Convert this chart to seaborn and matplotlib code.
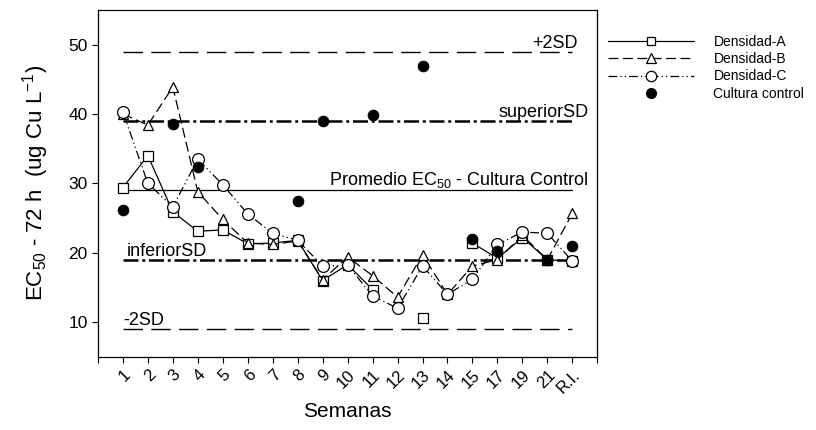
import numpy as np
import pandas as pd
import seaborn as sns
import matplotlib.pyplot as plt
from matplotlib.lines import Line2D

semanas = ['1', '2', '3', '4', '5', '6', '7', '8', '9', '10', '11', '12',
           '13', '14', '15', '17', '19', '21', 'R.I.']
dens_a = [29.4, 34.0, 25.9, 23.1, 23.3, 21.3, 21.4, 21.8, 16.0, 18.3, 14.7,
          np.nan, 10.6, np.nan, 21.4, 19.2, 22.2, 19.0, 18.8]
dens_b = [40.0, 38.4, 43.9, 28.8, 24.8, 21.4, 21.2, 21.7, 16.1, 19.4, 16.7,
          13.6, 19.7, 14.0, 18.1, 19.0, 22.5, 19.0, 25.7]
dens_c = [40.3, 30.0, 26.6, 33.5, 29.8, 25.6, 22.8, 21.8, 18.1, 18.2, 13.8,
          12.0, 18.1, 14.0, 16.2, 21.2, 23.0, 22.8, 18.8]
control = [26.1, np.nan, 38.5, 32.3, np.nan, np.nan, np.nan, 27.5, 39.0, np.nan,
           39.8, np.nan, 46.9, np.nan, 22.0, 20.3, np.nan, 19.0, 21.0]

# reference levels of the control culture
ref_names = ['+2SD', 'superiorSD', 'Promedio EC$_{50}$ - Cultura Control', 'inferiorSD', '-2SD']
ref_values = [49.0, 39.0, 29.0, 19.0, 9.0]

sns.set_style('ticks')
plt.rcParams['font.family'] = ['Liberation Sans', 'DejaVu Sans']
plt.rcParams['mathtext.fontset'] = 'custom'
plt.rcParams['mathtext.rm'] = 'Liberation Sans'
plt.rcParams['mathtext.it'] = 'Liberation Sans'
plt.rcParams['text.color'] = 'black'
plt.rcParams['axes.labelcolor'] = 'black'
plt.rcParams['xtick.color'] = 'black'
plt.rcParams['ytick.color'] = 'black'

pos = np.arange(1, len(semanas) + 1)

fig = plt.figure(figsize=(8.16, 4.30), dpi=100)
ax = fig.add_axes([0.120, 0.170, 0.612, 0.807])


def segments(values):
    # split a series at missing values so the line is not drawn across gaps
    v = pd.Series(values, dtype=float)
    seg = v.isna().cumsum()
    d = pd.DataFrame({'pos': pos, 'val': v, 'seg': seg})
    return d.dropna()


series = [
    ('Densidad-A', dens_a, 's', 7.0, '-'),
    ('Densidad-B', dens_b, '^', 7.5, (0, (8, 3.5))),
    ('Densidad-C', dens_c, 'o', 8.5, (0, (7, 2.5, 1, 2.5, 1, 2.5))),
]

# reference lines
ref_styles = [
    dict(ls=(0, (14, 6)), lw=1.0),
    dict(ls=(0, (6, 1.5, 1.2, 1.5)), lw=1.8),
    dict(ls='-', lw=0.9),
    dict(ls=(0, (6, 1.5, 1.2, 1.5)), lw=1.8),
    dict(ls=(0, (14, 6)), lw=1.0),
]
for val, st in zip(ref_values, ref_styles):
    ref = pd.DataFrame({'pos': [pos[0], pos[-1]], 'val': [val, val]})
    sns.lineplot(data=ref, x='pos', y='val', ax=ax, color='black', zorder=1, **st)

handles = []
for name, vals, mk, ms, ls in series:
    d = segments(vals)
    sns.lineplot(data=d, x='pos', y='val', units='seg', estimator=None, ax=ax,
                 color='black', lw=0.9, ls=ls, marker=mk, markersize=ms,
                 markerfacecolor='white', markeredgecolor='black',
                 markeredgewidth=0.9, zorder=3)
    handles.append(Line2D([], [], color='black', lw=0.9, ls=ls, marker=mk,
                          markersize=ms - 1, markerfacecolor='white',
                          markeredgecolor='black', markeredgewidth=0.9, label=name))

ctrl = pd.DataFrame({'pos': pos, 'val': control}).dropna()
sns.scatterplot(data=ctrl, x='pos', y='val', ax=ax, color='black', s=60,
                edgecolor='black', zorder=4)
handles.append(Line2D([], [], ls='none', marker='o', color='black', markersize=7,
                      label='Cultura control'))

# labels of the reference lines
ax.text(19.2, 49.0, ref_names[0], ha='right', va='bottom', fontsize=13)
ax.text(19.64, 39.0, ref_names[1], ha='right', va='bottom', fontsize=13)
ax.text(19.64, 29.0, ref_names[2], ha='right', va='bottom', fontsize=13)
ax.text(1.15, 19.0, ref_names[3], ha='left', va='bottom', fontsize=13)
ax.text(1.0, 9.0, ref_names[4], ha='left', va='bottom', fontsize=13)

ax.set_xlim(0, 20)
ax.set_ylim(5, 55)
ax.set_xticks(np.arange(0, 21))
ax.set_xticklabels([''] + semanas + [''], rotation=45, ha='right',
                   rotation_mode='anchor', fontsize=12)
ax.set_yticks([10, 20, 30, 40, 50])
ax.tick_params(axis='y', labelsize=12.5)
ax.tick_params(length=4, width=0.8, color='black', labelcolor='black')
for sp in ax.spines.values():
    sp.set_linewidth(0.9)
    sp.set_color('black')

ax.set_xlabel('Semanas', fontsize=15, labelpad=4)
ax.set_ylabel('EC$_{50}$ - 72 h  (ug Cu L$^{-1}$)', fontsize=16, labelpad=12)

ax.legend(handles=handles, loc='upper left', bbox_to_anchor=(1.01, 0.945),
          frameon=False, fontsize=10, handlelength=6.2, handletextpad=1.4,
          labelspacing=0.25, borderaxespad=0.0)

fig.savefig('out.png', dpi=100)
